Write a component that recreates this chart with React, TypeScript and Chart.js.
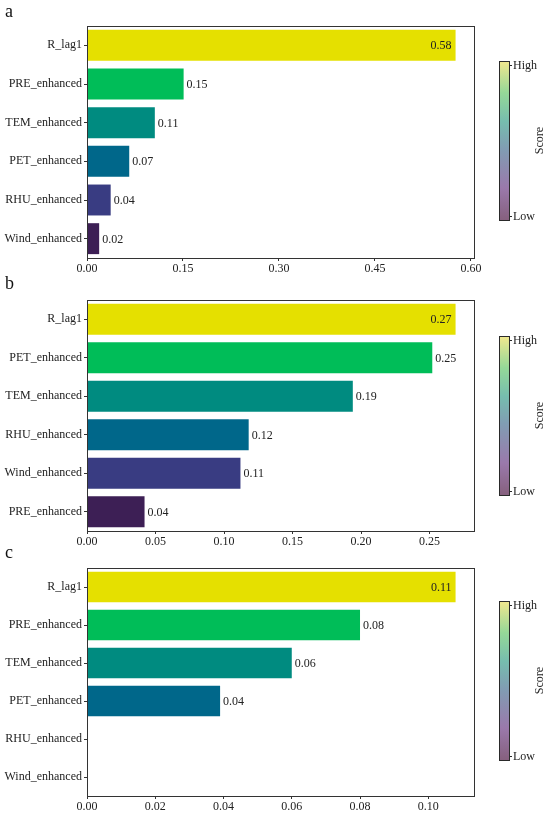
import React, { useEffect, useRef } from "react";
import { Chart, registerables } from "chart.js";

Chart.register(...registerables);

const FONT = "'Liberation Serif', 'Times New Roman', serif";

// Panel a
const catsA = ["R_lag1", "PRE_enhanced", "TEM_enhanced", "PET_enhanced", "RHU_enhanced", "Wind_enhanced"];
const valsA = [0.576, 0.151, 0.106, 0.066, 0.037, 0.019];
const ticksA = [0, 0.15, 0.3, 0.45, 0.6];

// Panel b
const catsB = ["R_lag1", "PET_enhanced", "TEM_enhanced", "RHU_enhanced", "Wind_enhanced", "PRE_enhanced"];
const valsB = [0.269, 0.252, 0.194, 0.118, 0.112, 0.042];
const ticksB = [0, 0.05, 0.1, 0.15, 0.2, 0.25];

// Panel c
const catsC = ["R_lag1", "PRE_enhanced", "TEM_enhanced", "PET_enhanced", "RHU_enhanced", "Wind_enhanced"];
const valsC = [0.108, 0.08, 0.06, 0.039, 0, 0];
const ticksC = [0, 0.02, 0.04, 0.06, 0.08, 0.1];

// colours by rank (viridis-like)
const rankColors = ["#E5E000", "#00BD58", "#008B80", "#00678A", "#393C82", "#3D1F55"];

const colorbarStops: [number, string][] = [
  [0, "#86607e"],
  [0.2, "#9a79ab"],
  [0.45, "#809db3"],
  [0.62, "#76bdae"],
  [0.8, "#95d898"],
  [1, "#f2e88e"],
];

type Panel = {
  letter: string;
  cats: string[];
  vals: number[];
  ticks: number[];
  top: number; // plot top within canvas
  bottom: number; // plot bottom within canvas
  letterY: number;
};

const panels: Panel[] = [
  { letter: "a", cats: catsA, vals: valsA, ticks: ticksA, top: 26, bottom: 258, letterY: 17 },
  { letter: "b", cats: catsB, vals: valsB, ticks: ticksB, top: 25, bottom: 256, letterY: 14 },
  { letter: "c", cats: catsC, vals: valsC, ticks: ticksC, top: 28, bottom: 256, letterY: 18 },
];

const CANVAS_W = 550;
const CANVAS_H = 275;
const PLOT_LEFT = 87;
const PLOT_RIGHT = 474;
const XAXIS_H = 17;
const AXIS_COLOR = "#333";
const TEXT_COLOR = "#222";

function makeChart(canvas: HTMLCanvasElement, p: Panel) {
  const maxVal = Math.max(...p.vals);
  const maxIdx = p.vals.indexOf(maxVal);
  const colors = p.vals.map((_, i) => rankColors[i]);

  const extras = {
    id: "extras",
    afterDatasetsDraw(chart: any) {
      const ctx = chart.ctx;
      const meta = chart.getDatasetMeta(0);
      ctx.save();
      ctx.font = `12px ${FONT}`;
      ctx.fillStyle = TEXT_COLOR;
      ctx.textBaseline = "middle";
      meta.data.forEach((el: any, i: number) => {
        const v = p.vals[i];
        if (!v) return;
        const label = v.toFixed(2);
        if (i === maxIdx) {
          ctx.textAlign = "right";
          ctx.fillText(label, el.x - 4, el.y + 1);
        } else {
          ctx.textAlign = "left";
          ctx.fillText(label, el.x + 3, el.y + 1);
        }
      });
      ctx.restore();
    },
    afterDraw(chart: any) {
      const ctx = chart.ctx;
      const a = chart.chartArea;
      ctx.save();
      // box border
      ctx.strokeStyle = AXIS_COLOR;
      ctx.lineWidth = 1;
      ctx.strokeRect(Math.round(a.left) + 0.5, Math.round(a.top) + 0.5, Math.round(a.right - a.left), Math.round(a.bottom - a.top));
      // panel letter
      ctx.fillStyle = "#111";
      ctx.font = `18px ${FONT}`;
      ctx.textAlign = "left";
      ctx.textBaseline = "alphabetic";
      ctx.fillText(p.letter, 5, p.letterY);
      // colorbar
      const cx = 499, cw = 10, cy = 61, ch = 159;
      const g = ctx.createLinearGradient(0, cy + ch, 0, cy);
      colorbarStops.forEach(([o, c]) => g.addColorStop(o, c));
      ctx.fillStyle = g;
      ctx.fillRect(cx, cy, cw, ch);
      ctx.strokeStyle = "#2a2a2a";
      ctx.strokeRect(cx + 0.5, cy + 0.5, cw, ch);
      // ticks + labels
      const hiY = cy + 4, loY = cy + ch - 4;
      ctx.beginPath();
      ctx.moveTo(cx + cw, hiY + 0.5);
      ctx.lineTo(cx + cw + 3, hiY + 0.5);
      ctx.moveTo(cx + cw, loY + 0.5);
      ctx.lineTo(cx + cw + 3, loY + 0.5);
      ctx.stroke();
      ctx.fillStyle = TEXT_COLOR;
      ctx.font = `12px ${FONT}`;
      ctx.textBaseline = "middle";
      ctx.fillText("High", cx + cw + 4, hiY + 1);
      ctx.fillText("Low", cx + cw + 4, loY + 1);
      // Score title
      ctx.translate(540, cy + ch / 2);
      ctx.rotate(-Math.PI / 2);
      ctx.textAlign = "center";
      ctx.fillText("Score", 0, 0);
      ctx.restore();
    },
  };

  return new Chart(canvas, {
    type: "bar",
    data: {
      labels: p.cats,
      datasets: [
        {
          data: p.vals,
          backgroundColor: colors,
          borderWidth: 0,
          barPercentage: 0.8,
          categoryPercentage: 1,
        },
      ],
    },
    options: {
      indexAxis: "y",
      animation: false,
      responsive: false,
      devicePixelRatio: 1,
      layout: {
        padding: {
          left: 0,
          right: CANVAS_W - PLOT_RIGHT,
          top: p.top,
          bottom: CANVAS_H - p.bottom - XAXIS_H,
        },
      },
      plugins: {
        legend: { display: false },
        tooltip: { enabled: false },
        title: { display: false },
      },
      scales: {
        x: {
          type: "linear",
          min: 0,
          max: maxVal * 1.05,
          grid: {
            drawOnChartArea: false,
            drawTicks: true,
            tickLength: 3,
            color: AXIS_COLOR,
          },
          border: { display: true, color: AXIS_COLOR, width: 1 },
          ticks: {
            font: { family: FONT, size: 12 },
            color: TEXT_COLOR,
            padding: 1,
            maxRotation: 0,
            autoSkip: false,
            callback: (v: any) => Number(v).toFixed(2),
          },
          afterBuildTicks: (scale: any) => {
            scale.ticks = p.ticks.map((v) => ({ value: v }));
          },
          afterFit: (scale: any) => {
            scale.height = XAXIS_H;
          },
        },
        y: {
          type: "category",
          offset: true,
          grid: {
            offset: false,
            drawOnChartArea: false,
            drawTicks: true,
            tickLength: 3,
            color: AXIS_COLOR,
          },
          border: { display: true, color: AXIS_COLOR, width: 1 },
          ticks: {
            font: { family: FONT, size: 12 },
            color: TEXT_COLOR,
            padding: 2,
            autoSkip: false,
          },
          afterFit: (scale: any) => {
            scale.width = PLOT_LEFT;
          },
        },
      },
    },
    plugins: [extras],
  } as any);
}

export default function App() {
  const r0 = useRef<HTMLCanvasElement>(null);
  const r1 = useRef<HTMLCanvasElement>(null);
  const r2 = useRef<HTMLCanvasElement>(null);

  useEffect(() => {
    const refs = [r0, r1, r2];
    const charts = refs.map((r, i) => makeChart(r.current as HTMLCanvasElement, panels[i]));
    return () => charts.forEach((c) => c.destroy());
  }, []);

  const tops = [0, 275, 540];
  const refs = [r0, r1, r2];
  return (
    <div style={{ position: "absolute", left: 0, top: 0, width: CANVAS_W, height: 815, background: "#fff", overflow: "hidden" }}>
      {refs.map((r, i) => (
        <canvas
          key={i}
          ref={r}
          width={CANVAS_W}
          height={CANVAS_H}
          style={{ position: "absolute", left: 0, top: tops[i], width: CANVAS_W, height: CANVAS_H }}
        />
      ))}
    </div>
  );
}
